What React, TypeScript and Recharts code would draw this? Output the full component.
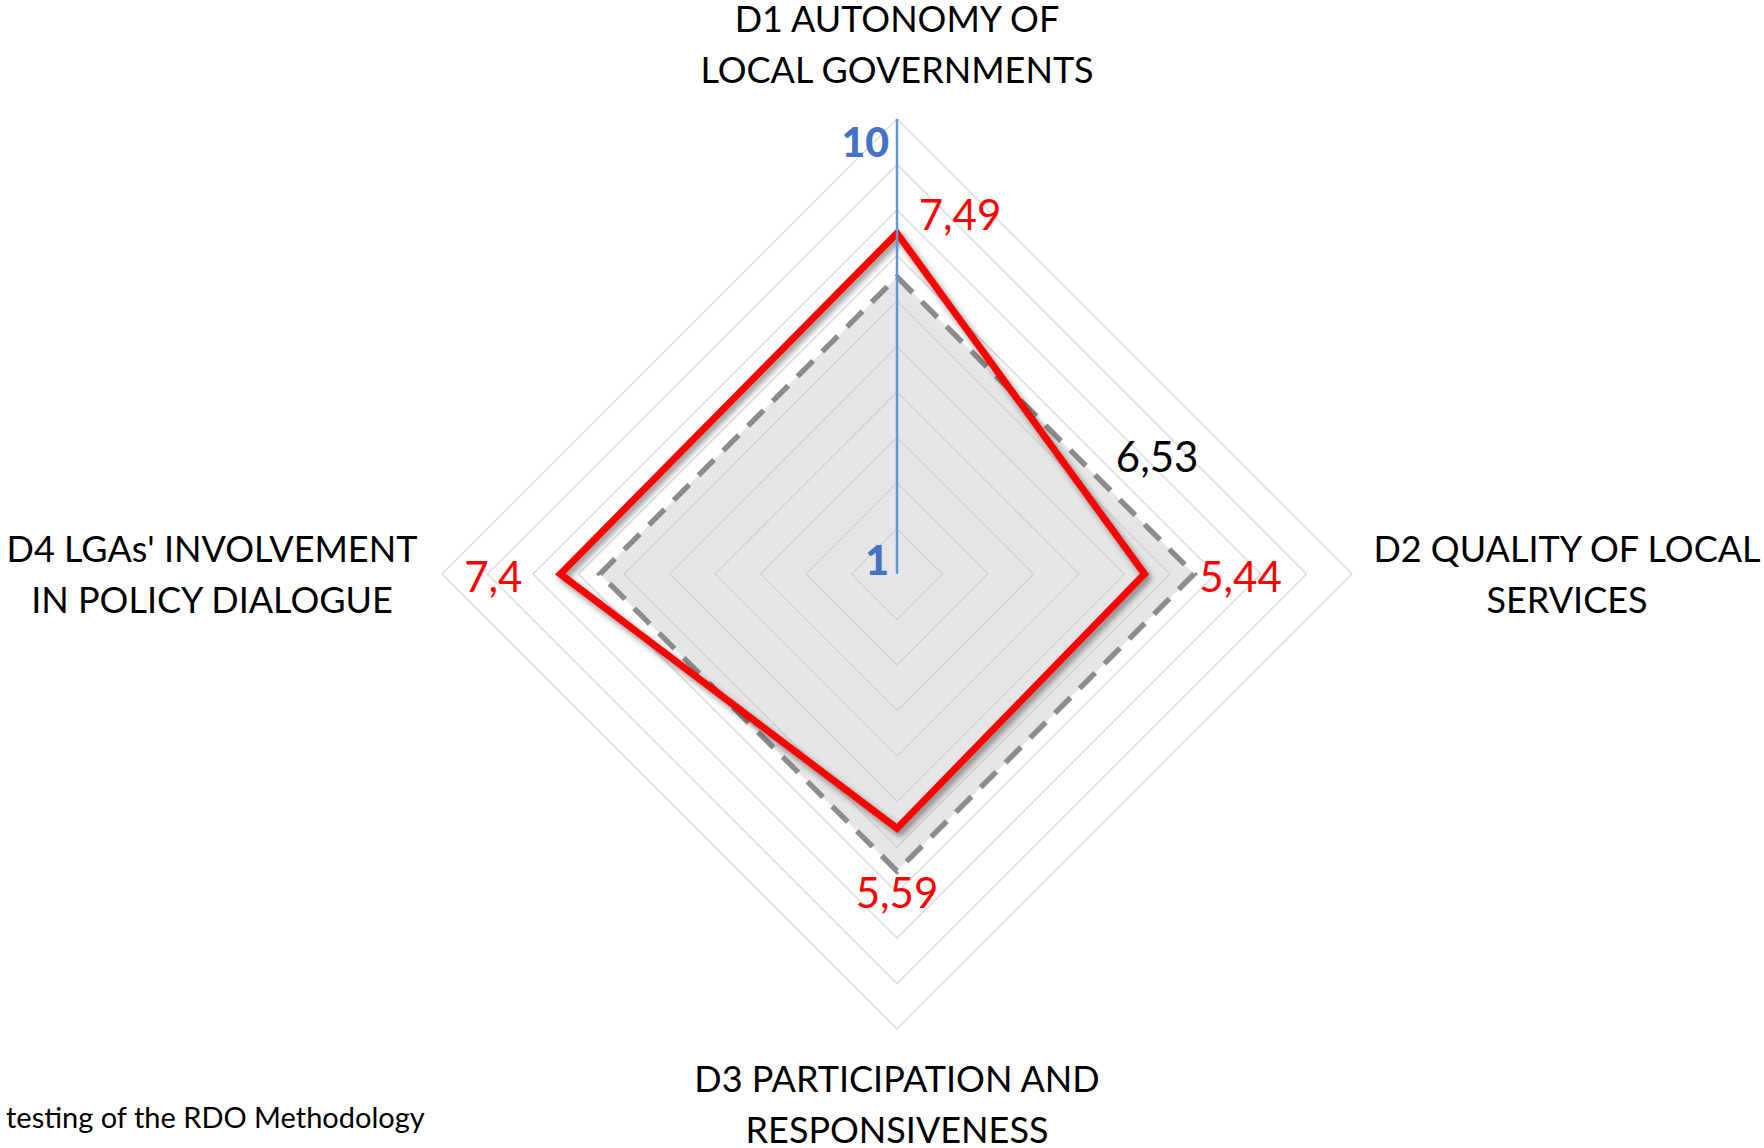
import React from "react";
import {
  RadarChart,
  Radar,
  PolarGrid,
  PolarAngleAxis,
  PolarRadiusAxis,
} from "recharts";

// dimensions of the RDO assessment
const dimensions = [
  "D1 AUTONOMY OF\nLOCAL GOVERNMENTS",
  "D2 QUALITY OF LOCAL\nSERVICES",
  "D3 PARTICIPATION AND\nRESPONSIVENESS",
  "D4 LGAs' INVOLVEMENT\nIN POLICY DIALOGUE",
];
const scores = [7.49, 5.44, 5.59, 7.4];
const average = [6.53, 6.53, 6.53, 6.53];
const scaleLabels = [1, 10];
const footnote = "testing of the RDO Methodology";

const data = dimensions.map((name, i) => ({
  name,
  score: scores[i],
  average: average[i],
}));

const W = 1764;
const H = 1148;
const FONT = "Lato, 'Open Sans', sans-serif";

// label placement relative to the point / tick, in px
const TITLE_OFFSETS = [
  { dx: 0, dy: -93 },
  { dx: 207, dy: -26 },
  { dx: 0, dy: 41 },
  { dx: -222, dy: -26 },
];
const SCORE_OFFSETS = [
  { dx: 63, dy: -19 },
  { dx: 96, dy: 2 },
  { dx: 0, dy: 64 },
  { dx: -67, dy: 2 },
];

const fmt = (v: number) => String(v).replace(".", ",");

const TitleTick = (props: any) => {
  const { x, y, payload, index } = props;
  const off = TITLE_OFFSETS[index] ?? { dx: 0, dy: 0 };
  const lines = String(payload.value).split("\n");
  return (
    <text
      x={x + off.dx}
      y={y + off.dy}
      textAnchor="middle"
      dominantBaseline="central"
      fontFamily={FONT}
      fontSize={36}
      fill="#000"
    >
      {lines.map((l, i) => (
        <tspan key={i} x={x + off.dx} dy={i === 0 ? 0 : 51}>
          {l}
        </tspan>
      ))}
    </text>
  );
};

const ScaleTick = (props: any) => {
  const { x, y, payload } = props;
  if (!scaleLabels.includes(payload.value)) return null;
  const dy = payload.value === 1 ? 31 : 22;
  return (
    <text
      x={x - 8}
      y={y + dy}
      textAnchor="end"
      dominantBaseline="central"
      fontFamily={FONT}
      fontWeight={900}
      fontSize={41}
      fill="#4472c4"
    >
      {payload.value}
    </text>
  );
};

const ScoreLabel = (props: any) => {
  const { x, y, value, index } = props;
  const off = SCORE_OFFSETS[index] ?? { dx: 0, dy: 0 };
  return (
    <text
      x={x + off.dx}
      y={y + off.dy}
      textAnchor="middle"
      dominantBaseline="central"
      fontFamily={FONT}
      fontSize={42}
      fill="#ff0000"
    >
      {fmt(value)}
    </text>
  );
};

const AverageLabel = (props: any) => {
  const { x, y, value, index } = props;
  if (index !== 1) return null;
  return (
    <text
      x={x - 37}
      y={y - 118}
      textAnchor="middle"
      dominantBaseline="central"
      fontFamily={FONT}
      fontSize={42}
      fill="#000"
    >
      {fmt(value)}
    </text>
  );
};

export default function App() {
  return (
    <div
      style={{
        position: "absolute",
        left: 0,
        top: 0,
        width: W,
        height: H,
        background: "#fff",
        overflow: "hidden",
      }}
    >
      <style>{`.score-radar path { filter: drop-shadow(3px 4px 3px rgba(0,0,0,0.45)); }`}</style>
      <RadarChart
        width={W}
        height={H}
        data={data}
        cx={897}
        cy={574}
        outerRadius={455}
        startAngle={90}
        endAngle={-270}
        margin={{ top: 0, right: 0, bottom: 0, left: 0 }}
      >
        <PolarGrid gridType="polygon" radialLines={false} stroke="#d9d9d9" strokeWidth={1.3} />
        <PolarAngleAxis
          dataKey="name"
          tick={<TitleTick />}
          tickLine={false}
          axisLine={false}
        />
        <Radar
          dataKey="average"
          stroke="#8c8c8c"
          strokeWidth={5.5}
          strokeDasharray="22 13"
          fill="#c8c8c8"
          fillOpacity={0.45}
          dot={false}
          label={<AverageLabel />}
          isAnimationActive={false}
        />
        <Radar
          className="score-radar"
          dataKey="score"
          stroke="#ff0000"
          strokeWidth={7}
          fill="none"
          fillOpacity={0}
          dot={false}
          label={<ScoreLabel />}
          isAnimationActive={false}
        />
        <PolarRadiusAxis
          angle={90}
          domain={[0, 10]}
          tickCount={11}
          axisLine={{ stroke: "#5b9bd5", strokeWidth: 2.5 }}
          tickLine={false}
          tick={<ScaleTick />}
        />
      </RadarChart>
      <div
        style={{
          position: "absolute",
          left: 6,
          top: 1099,
          fontFamily: FONT,
          fontSize: 29,
          color: "#000",
          whiteSpace: "nowrap",
        }}
      >
        {footnote}
      </div>
    </div>
  );
}
